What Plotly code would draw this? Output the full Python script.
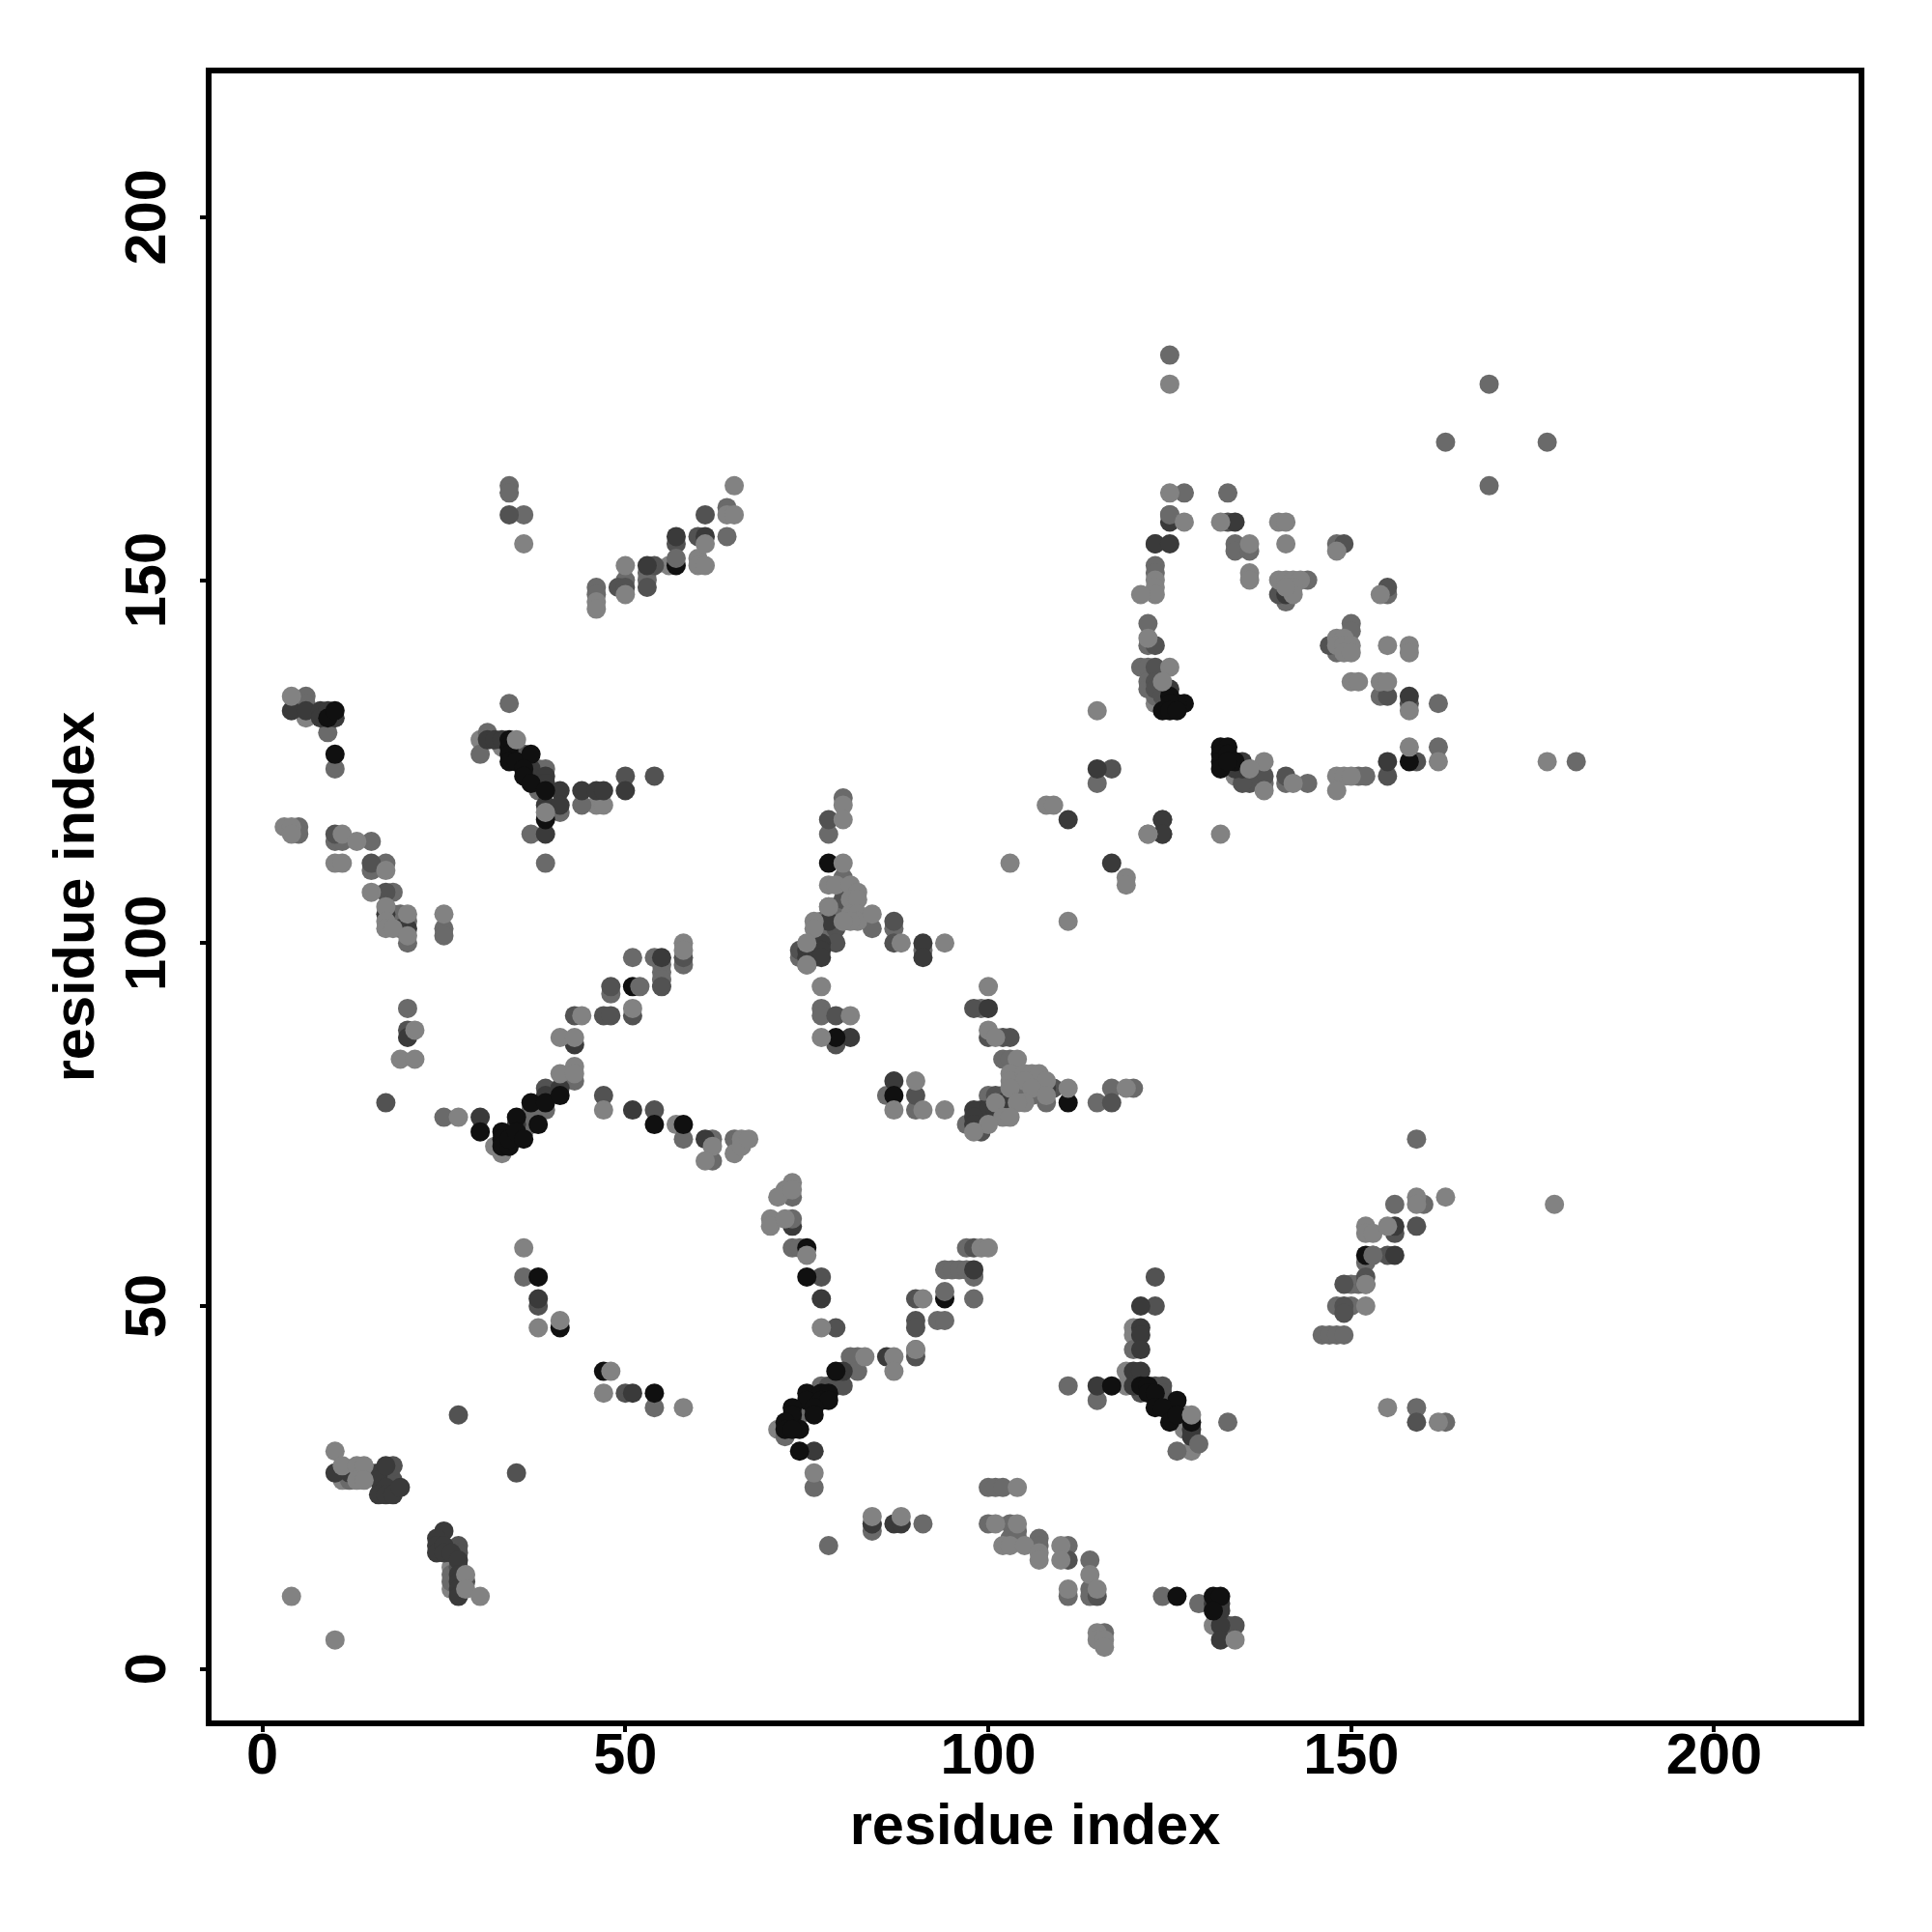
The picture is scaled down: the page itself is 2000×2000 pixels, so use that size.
import plotly.graph_objects as go

# residue contacts (i, j), grouped by shade; each group is painted in this order
light_back = [(71,33),(32,72),(33,71),(30,128),(6,131),(33,127),(119,39),(119,41),(120,47),(120,46),(127,35),(127,33),(128,30),
              (131,6),(11,26),(26,11),(26,14),(123,133),(39,118),(57,75),(56,152),(46,119),(47,119),(136,124),(134,123)]
grey = [(36,54),(54,36),(76,25),(72,32),(82,43),(81,43),(82,41),(77,39),(74,35),(75,36),(73,58),(74,58),(84,19),(91,20),(78,17),
        (94,55),(95,55),(96,55),(97,55),(97,58),(98,51),(98,54),(93,48),(94,48),(90,44),(100,25),(101,25),(102,25),(100,20),(103,20),
        (104,19),(103,18),(104,18),(107,18),(107,17),(111,17),(114,15),(111,10),(114,11),(114,10),(116,5),(124,10),(129,9),(111,39),
        (115,37),(120,44),(126,30),(133,34),(159,73),(156,64),(160,64),(153,57),(152,56),(150,53),(151,53),(148,50),(150,50),(146,46),
        (147,46),(148,46),(149,46),(159,36),(163,34),(12,26),(14,27),(15,27),(26,13),(26,12),(5,116),(5,115),(10,114),(11,114),(15,114),
        (15,110),(17,111),(18,107),(18,104),(19,104),(20,103),(20,100),(25,102),(25,101),(20,91),(25,76),(36,74),(37,77),(37,75),(39,77),
        (43,81),(48,93),(51,98),(54,98),(55,97),(55,96),(55,95),(58,97),(58,73),(62,73),(62,70),(65,73),(80,120),(78,115),(79,105),(80,105),
        (79,104),(84,102),(77,103),(78,102),(74,98),(76,99),(76,98),(75,97),(87,102),(91,99),(77,91),(77,90),(90,77),(99,91),(102,84),
        (103,84),(105,80),(108,78),(106,79),(102,79),(100,79),(103,79),(97,75),(99,75),(100,76),(115,78),(117,80),(120,80),(86,79),
        (34,163),(34,162),(36,159),(46,149),(46,148),(50,150),(53,151),(53,150),(64,160),(64,156),(6,134),(6,133),(9,129),(10,124),(34,133),
        (31,129),(30,126),(38,124),(39,124),(38,121),(41,118),(44,119),(37,115),(39,111),(125,181),(169,177),(163,169),(177,169),(169,163),
        (127,162),(133,162),(134,155),(134,154),(136,154),(148,155),(123,152),(123,151),(144,150),(141,147),(155,148),(122,144),(122,141),
        (150,144),(150,143),(148,140),(121,138),(122,138),(122,136),(122,135),(123,134),(154,134),(162,133),(162,127),(181,125),(151,123),
        (152,123),(138,122),(141,122),(144,122),(115,122),(78,105),(73,65)]
mid = [(38,50),(50,38),(77,54),(79,47),(78,39),(79,39),(80,39),(123,39),(124,39),(124,38),(121,38),(125,36),(90,51),(90,48),(90,47),(90,43),
       (98,58),(123,54),(123,50),(111,15),(115,10),(133,6),(134,6),(27,35),(35,27),(18,26),(18,28),(27,17),(27,16),(27,14),(28,12),(155,57),
       (149,53),(152,54),(149,50),(149,49),(159,61),(159,34),(156,60),(10,115),(15,111),(17,107),(20,88),(17,78),(39,80),(47,90),(48,90),(43,90),
       (48,94),(51,90),(55,94),(58,98),(47,79),(54,77),(78,117),(80,108),(80,106),(79,102),(74,99),(79,100),(87,103),(87,100),(84,20),(79,90),(79,86),
       (90,79),(98,91),(100,87),(102,87),(103,87),(101,79),(109,80),(103,78),(99,76),(99,74),(117,78),(34,159),(49,149),(50,149),(53,149),(54,152),
       (57,155),(60,156),(61,159),(36,126),(50,123),(54,123),(125,159),(133,158),(123,155),(149,155),(140,148),(155,149),(123,141),(147,141),
       (123,138),(123,136),(123,135),(124,134),(155,134),(158,133),(159,125),(155,123),(117,124),(138,123),(136,122),(135,122),(141,123),(124,117)]
dark = [(38,51),(51,38),(10,27),(12,27),(16,27),(16,26),(17,28),(17,25),(16,24),(17,24),(18,24),(19,25),(25,19),(24,18),(24,17),(24,16),(25,17),
        (25,16),(26,16),(27,15),(27,13),(27,12),(27,11),(27,10),(73,61),(73,34),(77,51),(80,41),(76,30),(86,43),(84,20),(87,20),(88,20),(121,50),
        (121,47),(121,46),(121,44),(120,41),(121,41),(115,39),(120,39),(128,33),(128,32),(132,9),(132,8),(131,9),(132,6),(132,4),(98,55),(156,61),
        (156,57),(152,53),(35,75),(17,104),(19,102),(20,102),(20,87),(30,76),(39,79),(41,80),(43,86),(55,98),(51,77),(61,73),(76,100),(77,100),(75,99),
        (77,99),(75,98),(77,98),(78,103),(87,81),(91,100),(91,98),(81,87),(100,91),(108,80),(102,78),(99,77),(98,77),(100,77),(101,77),(98,76),(98,75),
        (111,117),(117,111),(124,115),(124,117),(53,152),(57,156),(61,156),(4,132),(6,132),(8,132),(8,131),(9,132),(10,131),(31,128),(32,128),(33,128),
        (37,124),(39,123),(38,122),(39,122),(39,119),(41,121),(41,119),(44,121),(46,121),(47,121),(50,121),(39,115),(125,158),(134,158),(123,155),
        (125,155),(141,148),(125,135),(158,134),(155,125),(115,124),(124,115),(135,125),(135,124),(134,124)]
black = [(38,54),(41,47),(47,41),(54,38),(75,58),(75,54),(79,41),(75,38),(77,38),(78,38),(75,37),(77,37),(78,37),(73,36),(76,36),(76,35),(73,35),
         (72,34),(74,33),(72,33),(73,33),(74,30),(94,51),(117,39),(121,39),(122,39),(122,38),(123,38),(126,37),(123,36),(124,36),(125,34),(126,35),
         (128,34),(126,10),(131,10),(132,10),(131,8),(152,57),(51,94),(30,74),(33,74),(33,73),(33,72),(34,72),(34,73),(35,76),(35,74),(36,73),(37,78),
         (38,75),(39,78),(41,79),(54,75),(58,75),(78,111),(79,87),(87,79),(111,78),(57,152),(9,131),(10,132),(10,126),(34,128),(34,127),(34,126),(34,125),
         (35,125),(37,126),(36,124),(36,123),(37,122),(39,121),(39,117),(125,134),(127,133),(126,133),(125,133),(124,132),(125,132),(126,132),(132,127),
         (133,127),(132,126),(132,125),(132,124),(133,126),(134,125),(133,125),(158,125)]
grey_front = [(73,62),(94,52),(57,153),(153,57),(52,94),(129,31),(80,109),(125,159)]
light_front = [(36,58),(38,47),(41,48),(48,41),(47,38),(58,36),(10,30),(11,28),(13,28),(13,26),(14,28),(14,26),(28,13),(28,11),(30,10),(4,10),(10,4),
               (70,62),(70,61),(72,62),(75,57),(77,47),(83,43),(76,27),(84,21),(88,21),(87,43),(87,41),(91,51),(99,58),(100,58),(90,44),(104,25),(101,20),
               (104,20),(102,17),(103,17),(105,17),(107,16),(107,15),(110,17),(110,15),(114,13),(111,11),(115,11),(115,5),(115,4),(116,4),(116,3),(134,4),
               (128,35),(163,65),(159,65),(159,64),(178,64),(152,61),(152,60),(153,60),(155,61),(152,50),(155,36),(162,34),(152,53),(3,116),(4,116),(4,115),
               (11,115),(13,114),(10,111),(11,111),(17,110),(15,107),(17,105),(17,103),(17,102),(18,102),(20,104),(20,101),(25,104),(21,88),(19,84),(21,84),
               (27,76),(41,82),(43,83),(43,82),(41,87),(43,87),(44,90),(51,91),(58,100),(58,99),(47,77),(62,72),(61,70),(65,71),(66,73),(66,72),(67,73),
               (80,119),(80,117),(80,111),(78,108),(79,108),(81,108),(82,107),(81,106),(82,106),(78,105),(81,104),(82,104),(82,103),(81,103),(80,103),(84,104),
               (76,103),(76,102),(75,100),(75,97),(88,100),(94,100),(77,94),(81,90),(77,87),(90,81),(87,77),(91,77),(94,77),(100,94),(100,88),(101,87),(104,84),
               (103,82),(103,81),(105,82),(106,82),(107,82),(108,81),(105,81),(106,80),(111,80),(108,79),(105,78),(103,80),(104,78),(101,78),(102,76),(103,76),
               (100,75),(98,74),(119,80),(108,119),(109,119),(103,111),(111,103),(119,109),(119,108),(122,115),(36,155),(46,147),(46,146),(50,152),(50,148),
               (60,153),(60,152),(61,152),(61,155),(64,159),(65,159),(65,163),(4,134),(35,128),(39,118),(125,177),(125,162),(127,158),(132,158),(140,158),
               (141,158),(136,155),(141,155),(148,154),(136,151),(136,150),(123,150),(123,149),(123,148),(121,148),(140,150),(141,150),(142,150),(143,150),
               (142,149),(142,148),(141,149),(154,148),(122,142),(148,142),(149,142),(148,141),(149,141),(150,141),(149,140),(150,140),(155,141),(158,141),
               (158,140),(125,138),(124,136),(150,136),(151,136),(154,136),(155,136),(158,132),(115,132),(158,127),(162,125),(177,125),(148,123),(149,123),
               (150,123),(148,121),(138,125),(136,124),(138,121),(142,122),(122,115),(132,115),(73,67),(72,66),(71,65),(73,66)]

layers = [(light_back, "#828282"), (grey, "#6a6a6a"), (mid, "#525252"), (dark, "#3a3a3a"), (black, "#101010"),
          (grey_front, "#6a6a6a"), (light_front, "#828282")]

x_ticks = [0, 50, 100, 150, 200]
y_ticks = [0, 50, 100, 150, 200]
axis_title = "residue index"

fig = go.Figure()
for pts, colour in layers:
    fig.add_trace(go.Scatter(x=[p[0] for p in pts], y=[p[1] for p in pts], mode="markers",
                             marker=dict(size=20, color=colour, line=dict(width=0)), showlegend=False))

font = dict(family="Liberation Sans", size=59.5, color="black", weight="bold")
common = dict(showgrid=False, zeroline=False, showline=True, mirror=True, linecolor="black",
              linewidth=6, ticks="outside", ticklen=6, tickwidth=4, tickcolor="black", tickfont=font)
fig.update_xaxes(range=[-7.01, 219.9], tickvals=x_ticks, ticklabelstandoff=-28,
                 title=dict(text=axis_title, font=font, standoff=21), **common)
fig.update_yaxes(range=[-7.09, 219.8], tickvals=y_ticks, tickangle=-90, ticklabelstandoff=12, ticklabelshift=9,
                 title=dict(text=axis_title, font=font, standoff=2), **common)
fig.update_layout(width=2000, height=2000, autosize=False, paper_bgcolor="white", plot_bgcolor="white",
                  margin=dict(l=211, r=84, t=68, b=227, pad=0))
fig.write_html("out.html")
